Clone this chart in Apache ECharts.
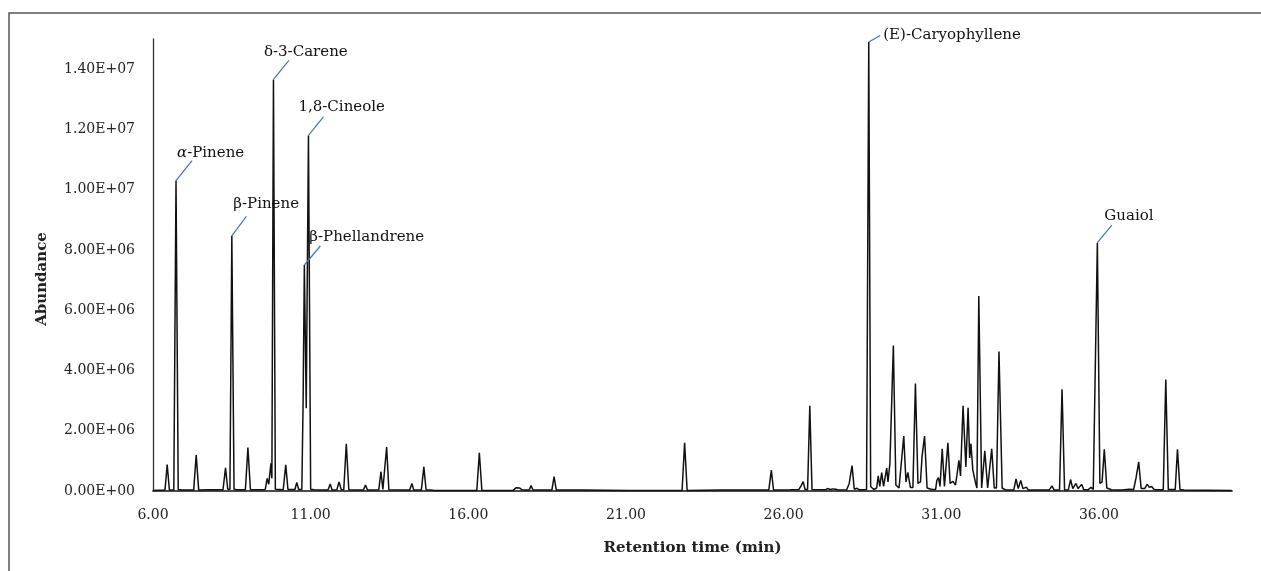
<!DOCTYPE html>
<html>
<head>
<meta charset="utf-8">
<script src="https://cdn.jsdelivr.net/npm/echarts@6/dist/echarts.min.js"></script>
<style>html,body{margin:0;padding:0;background:#fff}#c{width:1261px;height:571px}</style>
</head>
<body>
<div id="c"></div>
<script>
// Chromatogram trace: [retention time (min), abundance]
const trace = [
[6.00,0.02e6],[6.38,0.03e6],[6.45,0.88e6],[6.52,0.03e6],[6.66,0.04e6],[6.73,10.3e6],[6.80,0.05e6],[6.90,0.03e6],
[7.29,0.03e6],[7.37,1.19e6],[7.45,0.03e6],[7.80,0.04e6],[8.22,0.04e6],[8.30,0.77e6],[8.37,0.06e6],[8.44,0.06e6],
[8.50,8.47e6],[8.57,0.06e6],[8.65,0.04e6],[8.93,0.04e6],[9.01,1.44e6],[9.09,0.04e6],[9.40,0.04e6],[9.56,0.05e6],
[9.62,0.42e6],[9.67,0.22e6],[9.74,0.92e6],[9.77,0.42e6],[9.82,13.66e6],[9.88,0.06e6],[10.13,0.04e6],[10.21,0.87e6],
[10.28,0.05e6],[10.50,0.05e6],[10.56,0.28e6],[10.62,0.05e6],[10.72,0.05e6],[10.76,2.9e6],[10.80,7.5e6],[10.86,2.75e6],
[10.93,11.8e6],[11.00,0.06e6],[11.10,0.04e6],[11.55,0.03e6],[11.62,0.23e6],[11.68,0.03e6],[11.83,0.04e6],[11.90,0.30e6],
[11.97,0.05e6],[12.05,0.04e6],[12.13,1.57e6],[12.21,0.04e6],[12.67,0.03e6],[12.74,0.20e6],[12.80,0.03e6],[13.16,0.04e6],
[13.23,0.64e6],[13.29,0.05e6],[13.34,0.05e6],[13.41,1.46e6],[13.48,0.04e6],[14.14,0.03e6],[14.21,0.25e6],[14.27,0.03e6],
[14.51,0.03e6],[14.59,0.80e6],[14.66,0.04e6],[14.82,0.03e6],[14.87,0.06e6],[14.92,0.02e6],[16.27,0.02e6],[16.35,1.27e6],
[16.43,0.02e6],[17.42,0.02e6],[17.52,0.11e6],[17.62,0.10e6],[17.72,0.03e6],[17.93,0.03e6],[17.99,0.18e6],[18.05,0.03e6],
[18.65,0.03e6],[18.72,0.48e6],[18.79,0.03e6],[19.60,0.03e6],[21.08,0.02e6],[21.14,0.05e6],[21.20,0.02e6],[22.78,0.02e6],
[22.86,1.60e6],[22.94,0.02e6],[24.00,0.03e6],[25.53,0.03e6],[25.61,0.69e6],[25.68,0.03e6],[26.20,0.04e6],[26.48,0.05e6],
[26.55,0.16e6],[26.62,0.31e6],[26.68,0.05e6],[26.76,0.05e6],[26.83,2.83e6],[26.90,0.05e6],[27.32,0.04e6],[27.39,0.08e6],
[27.48,0.05e6],[27.56,0.07e6],[27.66,0.06e6],[27.75,0.03e6],[28.00,0.04e6],[28.08,0.25e6],[28.17,0.84e6],[28.24,0.06e6],
[28.33,0.09e6],[28.40,0.04e6],[28.55,0.04e6],[28.63,0.05e6],[28.70,14.9e6],[28.76,0.15e6],[28.86,0.05e6],[28.95,0.10e6],
[29.00,0.50e6],[29.05,0.15e6],[29.11,0.61e6],[29.17,0.15e6],[29.27,0.76e6],[29.31,0.30e6],[29.37,0.91e6],[29.48,4.83e6],
[29.56,0.20e6],[29.66,0.10e6],[29.81,1.82e6],[29.88,0.30e6],[29.94,0.62e6],[30.02,0.12e6],[30.10,0.12e6],[30.18,3.57e6],
[30.26,0.25e6],[30.34,0.30e6],[30.39,1.14e6],[30.47,1.82e6],[30.55,0.10e6],[30.70,0.05e6],[30.82,0.05e6],[30.86,0.35e6],
[30.91,0.44e6],[30.96,0.15e6],[31.03,1.40e6],[31.10,0.15e6],[31.21,1.60e6],[31.28,0.25e6],[31.37,0.32e6],[31.45,0.20e6],
[31.50,0.55e6],[31.56,1.02e6],[31.61,0.50e6],[31.69,2.83e6],[31.78,0.80e6],[31.85,2.76e6],[31.90,1.10e6],[31.94,1.57e6],
[32.00,0.70e6],[32.04,0.66e6],[32.08,0.30e6],[32.13,0.10e6],[32.19,6.47e6],[32.28,0.10e6],[32.38,1.33e6],[32.47,0.10e6],
[32.60,1.40e6],[32.68,0.10e6],[32.75,0.10e6],[32.83,4.63e6],[32.93,0.10e6],[33.05,0.03e6],[33.30,0.03e6],[33.37,0.40e6],
[33.44,0.08e6],[33.52,0.35e6],[33.59,0.08e6],[33.70,0.13e6],[33.76,0.03e6],[34.42,0.03e6],[34.51,0.17e6],[34.58,0.03e6],
[34.75,0.03e6],[34.83,3.38e6],[34.91,0.03e6],[35.03,0.04e6],[35.10,0.38e6],[35.17,0.08e6],[35.27,0.25e6],[35.34,0.08e6],
[35.45,0.22e6],[35.52,0.04e6],[35.65,0.04e6],[35.75,0.12e6],[35.82,0.05e6],[35.88,0.10e6],[35.95,8.24e6],[36.03,0.25e6],
[36.10,0.30e6],[36.17,1.38e6],[36.25,0.10e6],[36.40,0.04e6],[36.75,0.03e6],[36.95,0.06e6],[37.10,0.05e6],[37.18,0.45e6],
[37.26,0.97e6],[37.34,0.08e6],[37.45,0.08e6],[37.53,0.22e6],[37.60,0.12e6],[37.67,0.15e6],[37.75,0.05e6],[37.90,0.04e6],
[38.04,0.04e6],[38.12,3.70e6],[38.20,0.05e6],[38.42,0.05e6],[38.49,1.38e6],[38.57,0.05e6],[38.70,0.03e6],[40.21,0.02e6]
];

// Labelled compounds
const compoundNames = ['{i|α}-Pinene', 'β-Pinene', 'δ-3-Carene', '1,8-Cineole', 'β-Phellandrene', '(E)-Caryophyllene', 'Guaiol'];
const compoundRt = [6.73, 8.50, 9.82, 10.93, 10.80, 28.70, 35.95];
const compoundAbundance = [10.3e6, 8.47e6, 13.66e6, 11.8e6, 7.5e6, 14.9e6, 8.24e6];

// Axis settings
const xMin = 6, xMax = 40.22, xStep = 5;
const yMin = 0, yMax = 1.5e7, yStep = 2e6;

// Styling: leader line end offset [dx, dy] and text offset [dx (left), dy (middle)] from peak apex
const leaderOffsets = [[16,-20],[14.5,-19.5],[15.5,-19],[15,-18.5],[16,-19],[11.5,-6.5],[14.5,-17.5]];
const textOffsets = [[1,-28],[1.5,-31.5],[-9.5,-27],[-10,-28],[5,-28],[14.5,-6.5],[7,-27]];

function sci(v) {
  if (v === 0) return '0.00E+00';
  const e = Math.floor(Math.log10(v) + 1e-9);
  const m = v / Math.pow(10, e);
  return m.toFixed(2) + 'E+' + (e < 10 ? '0' + e : e);
}

const FONT = 'DejaVu Serif';
const chart = echarts.init(document.getElementById('c'));
const option = {
  animation: false,
  backgroundColor: '#fff',
  grid: { left: 153, right: 29, top: 39, bottom: 80 },
  xAxis: {
    type: 'value', min: xMin, max: xMax, interval: xStep,
    axisLine: { lineStyle: { color: '#4a4a4a', width: 1.8 } },
    axisTick: { show: false },
    splitLine: { show: false },
    axisLabel: { formatter: v => v.toFixed(2), margin: 17, fontFamily: FONT, fontSize: 14, color: '#222', showMaxLabel: false },
    name: 'Retention time (min)', nameLocation: 'middle', nameGap: 50,
    nameTextStyle: { fontFamily: FONT, fontWeight: 'bold', fontSize: 15, color: '#222' }
  },
  yAxis: {
    type: 'value', min: yMin, max: yMax, interval: yStep,
    axisLine: { show: true, lineStyle: { color: '#333', width: 1.3 } },
    axisTick: { show: false },
    splitLine: { show: false },
    axisLabel: { formatter: sci, margin: 18, fontFamily: FONT, fontSize: 14, color: '#222', showMaxLabel: false }
  },
  series: [{
    type: 'line', data: trace, showSymbol: false, silent: true,
    lineStyle: { color: '#111', width: 1.5 }
  }]
};
chart.setOption(option);

const g = [
  { type: 'rect', shape: { x: 9, y: 13, width: 1400, height: 700 }, style: { fill: 'none', stroke: '#555', lineWidth: 1.5 }, silent: true },
  { type: 'text', x: 42, y: 279, rotation: Math.PI / 2,
    style: { text: 'Abundance', font: 'bold 15px "DejaVu Serif"', fill: '#222', align: 'center', verticalAlign: 'middle' } }
];
compoundNames.forEach((name, i) => {
  const p = chart.convertToPixel({ gridIndex: 0 }, [compoundRt[i], compoundAbundance[i]]);
  const lo = leaderOffsets[i], to = textOffsets[i];
  g.push({ type: 'line', shape: { x1: p[0], y1: p[1], x2: p[0] + lo[0], y2: p[1] + lo[1] },
    style: { stroke: '#4472C4', lineWidth: 1.2 }, silent: true, z: 10 });
  g.push({ type: 'text', x: p[0] + to[0], y: p[1] + to[1], z: 10,
    style: { text: name, font: '15px "DejaVu Serif"', fill: '#111', align: 'left', verticalAlign: 'middle',
      rich: { i: { fontStyle: 'italic', fontFamily: FONT, fontSize: 15 } } } });
});
chart.setOption({ graphic: g });
</script>
</body>
</html>
